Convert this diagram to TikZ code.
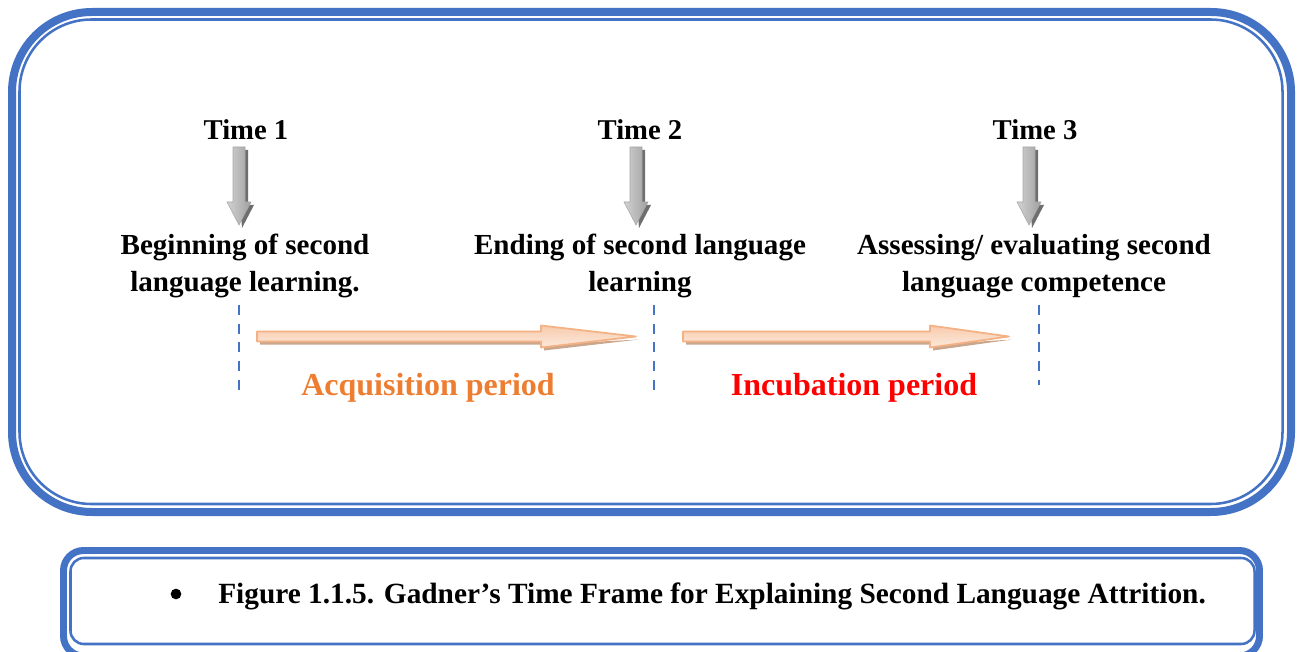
\documentclass[tikz,border=0pt]{standalone}
\usepackage{fontspec}
\setmainfont{Liberation Serif}
\usetikzlibrary{shadings}
\definecolor{frameblue}{HTML}{4472C4}
\definecolor{acqorange}{HTML}{ED7D31}
\definecolor{arrowedge}{HTML}{F4B183}
\definecolor{arrowfillA}{HTML}{F8CBAD}
\definecolor{arrowfillB}{HTML}{FCE9DC}
\definecolor{arrowshadow}{HTML}{C9A68C}
\definecolor{greyshadow}{HTML}{6E6E6E}
\tikzset{
  thickframe/.style={draw=frameblue, line width=6pt},
  thinframe/.style={draw=frameblue, line width=1.9pt},
  timelabel/.style={font=\fontsize{21.5}{26}\selectfont\bfseries, inner sep=0pt},
  eventlabel/.style={font=\fontsize{21.8}{27.5}\selectfont\bfseries, align=center, inner sep=0pt},
  periodlabel/.style={font=\fontsize{24}{28}\selectfont\bfseries, inner sep=0pt},
  marker/.style={draw=frameblue, line width=1.9pt, dash pattern=on 7.5pt off 6.5pt},
  downarrow/.style={left color=gray!35, right color=gray!75, draw=gray!70, line width=0.4pt},
  downshadow/.style={fill=greyshadow},
  periodarrow/.style={top color=arrowfillA, bottom color=arrowfillB, draw=arrowedge, line width=1.3pt, line join=round},
  periodshadow/.style={fill=arrowshadow},
  bulletdot/.style={circle, fill=black, inner sep=0pt, minimum size=8pt},
}
% vertical grey arrow centred on x, from top y to tip y
\newcommand\timearrow[3]{%
  \path[downshadow] (#1-3,#2+3) -- (#1+9,#2+3) -- (#1+9,#3-20) -- (#1+15,#3-20) -- (#1+3,#3+3) -- cycle;
  \path[downarrow] (#1-6,#2) -- (#1+6,#2) -- (#1+6,#3-23) -- (#1+12,#3-23) -- (#1,#3) -- (#1-12,#3-23) -- (#1-6,#3-23) -- cycle;
}
% horizontal orange arrow: start x, head x, tip x, centre y
\newcommand\spanarrow[4]{%
  \path[periodshadow] (#1+3,#4+2) -- (#2+3,#4+2) -- (#2+3,#4+14) -- (#3+3,#4+3) -- (#2+3,#4+8) -- (#1+3,#4+8) -- cycle;
  \path[periodarrow] (#1,#4-5) -- (#2,#4-5) -- (#2,#4-11) -- (#3,#4) -- (#2,#4+11) -- (#2,#4+5) -- (#1,#4+5) -- cycle;
}
\begin{document}
\begin{tikzpicture}[x=0.75pt,y=-0.75pt]
\useasboundingbox (0,0) rectangle (1298,652);

% upper frame: heavy outer line with a thin line inside it
\draw[thickframe, rounded corners=60pt] (12,12) rectangle (1291,512);
\draw[thinframe, rounded corners=54pt] (19.5,19.5) rectangle (1282.5,504);

% caption frame
\draw[thickframe, line width=5.2pt, rounded corners=15pt] (63.5,550.5) rectangle (1259.5,656);
\draw[thinframe, rounded corners=10pt] (70.5,558) rectangle (1254.5,644);

% time labels
\node[timelabel] (t1) at (246,130) {Time 1};
\node[timelabel] (t2) at (640,130) {Time 2};
\node[timelabel] (t3) at (1035,130) {Time 3};

% arrows from the labels to the events
\timearrow{239}{147}{225}
\timearrow{636}{147}{225}
\timearrow{1029}{147}{225}

% events
\node[eventlabel] (e1) at (245,266) {Beginning of second\\language learning.};
\node[eventlabel] (e2) at (640,266) {Ending of second language\\learning};
\node[eventlabel] (e3) at (1034,266) {Assessing/ evaluating second\\language competence};

% dashed time markers
\coordinate (m1a) at (239,305); \coordinate (m1b) at (239,395);
\coordinate (m2a) at (654,305); \coordinate (m2b) at (654,395);
\coordinate (m3a) at (1039,305); \coordinate (m3b) at (1039,385);
\draw[marker] (m1a) -- (m1b);
\draw[marker] (m2a) -- (m2b);
\draw[marker] (m3a) -- (m3b);

% periods
\spanarrow{257}{541}{636}{336.5}
\spanarrow{683}{930}{1009}{336.5}
\node[periodlabel, text=acqorange] (p1) at (428,388) {Acquisition period};
\node[periodlabel, text=red] (p2) at (854,388) {Incubation period};

% caption
\node[bulletdot] (bul) at (176,594) {};
\node[font=\fontsize{22}{26}\selectfont\bfseries, anchor=west, inner sep=0pt] (cap) at (218,596)
  {Figure 1.1.5. Gadner’s Time Frame for Explaining Second Language Attrition.};
\end{tikzpicture}
\end{document}
